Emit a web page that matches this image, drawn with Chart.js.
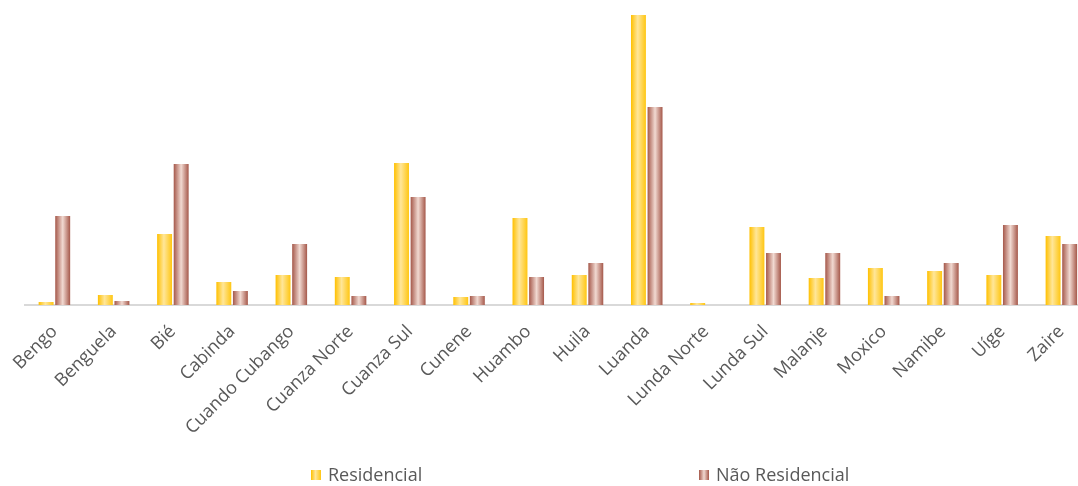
<!DOCTYPE html>
<html>
<head>
<meta charset="utf-8">
<script src="https://cdn.jsdelivr.net/npm/chart.js@4/dist/chart.umd.min.js"></script>
<style>
  html, body { margin: 0; padding: 0; background: #ffffff; overflow: hidden; }
  #wrap { position: relative; width: 1078px; height: 486px; overflow: hidden; }
  canvas { display: block; }
</style>
</head>
<body>
<div id="wrap"><canvas id="chart" width="1100" height="486"></canvas></div>
<script>
// Províncias
const provincias = [
  'Bengo', 'Benguela', 'Bié', 'Cabinda', 'Cuando Cubango', 'Cuanza Norte',
  'Cuanza Sul', 'Cunene', 'Huambo', 'Huila', 'Luanda', 'Lunda Norte',
  'Lunda Sul', 'Malanje', 'Moxico', 'Namibe', 'Uíge', 'Zaire'
];

const residencial = [3, 10, 71, 23, 30, 28, 142, 8, 87, 30, 290, 2, 78, 27, 37, 34, 30, 69];
const naoResidencial = [89, 4, 141, 14, 61, 9, 108, 9, 28, 42, 198, 0, 52, 52, 9, 42, 80, 61];

const seriesNames = ['Residencial', 'Não Residencial'];

// gradient stops (left → centre → right) for each series
const gradientStops = [
  [[0, '#FFC000'], [0.45, '#FFE699'], [1, '#FFC612']],
  [[0, '#A5584A'], [0.5, '#F1D9D1'], [1, '#A5584A']]
];

const CATEGORY_PCT = 0.56;
const BAR_PCT = 0.9;
const TEXT_COLOR = '#595959';
const FONT_FAMILY = '"Open Sans", "Noto Sans", sans-serif';

function horizontalGradient(ctx, x0, x1, stops) {
  const g = ctx.createLinearGradient(x0, 0, x1, 0);
  stops.forEach(([o, c]) => g.addColorStop(o, c));
  return g;
}

// each bar gets its own left-to-right gradient
function barFill(context) {
  const chart = context.chart;
  const stops = gradientStops[context.datasetIndex];
  const xs = chart.scales.x;
  if (!xs || xs.width === undefined || context.dataIndex === undefined) return stops[0][1];
  const n = chart.data.labels.length;
  const cat = xs.width / n;
  const slot = cat * CATEGORY_PCT / chart.data.datasets.length;
  const w = slot * BAR_PCT;
  const center = xs.getPixelForValue(context.dataIndex) +
    (context.datasetIndex - (chart.data.datasets.length - 1) / 2) * slot;
  return horizontalGradient(chart.ctx, center - w / 2, center + w / 2, stops);
}

// legend drawn below the axis labels, items spread across the width
const legendPositions = [311, 699];
const wideLegend = {
  id: 'wideLegend',
  afterDraw(chart) {
    const ctx = chart.ctx;
    const y = 475;
    const box = 10;
    ctx.save();
    ctx.font = '18px ' + FONT_FAMILY;
    ctx.textBaseline = 'middle';
    ctx.textAlign = 'left';
    chart.data.datasets.forEach((ds, i) => {
      const x = legendPositions[i];
      ctx.fillStyle = horizontalGradient(ctx, x, x + box, gradientStops[i]);
      ctx.fillRect(x, y - box / 2, box, box);
      ctx.fillStyle = TEXT_COLOR;
      ctx.fillText(ds.label, x + box + 7, y + 1);
    });
    ctx.restore();
  }
};

new Chart(document.getElementById('chart'), {
  type: 'bar',
  data: {
    labels: provincias,
    datasets: [
      { label: seriesNames[0], data: residencial, backgroundColor: barFill,
        categoryPercentage: CATEGORY_PCT, barPercentage: BAR_PCT, borderWidth: 0 },
      { label: seriesNames[1], data: naoResidencial, backgroundColor: barFill,
        categoryPercentage: CATEGORY_PCT, barPercentage: BAR_PCT, borderWidth: 0 }
    ]
  },
  options: {
    responsive: false,
    animation: false,
    devicePixelRatio: 1,
    layout: { padding: { left: 24, right: 9, top: 15, bottom: 0 } },
    plugins: {
      legend: { display: false },
      tooltip: { enabled: false }
    },
    scales: {
      x: {
        grid: { display: false, drawTicks: false },
        border: { display: true, color: '#D9D9D9', width: 2 },
        ticks: {
          color: TEXT_COLOR,
          font: { family: FONT_FAMILY, size: 18 },
          minRotation: 45,
          maxRotation: 45,
          autoSkip: false,
          padding: 16
        },
        afterFit(scale) { scale.height = 181; }
      },
      y: {
        display: false,
        min: 0,
        max: 290
      }
    }
  },
  plugins: [wideLegend]
});
</script>
</body>
</html>
